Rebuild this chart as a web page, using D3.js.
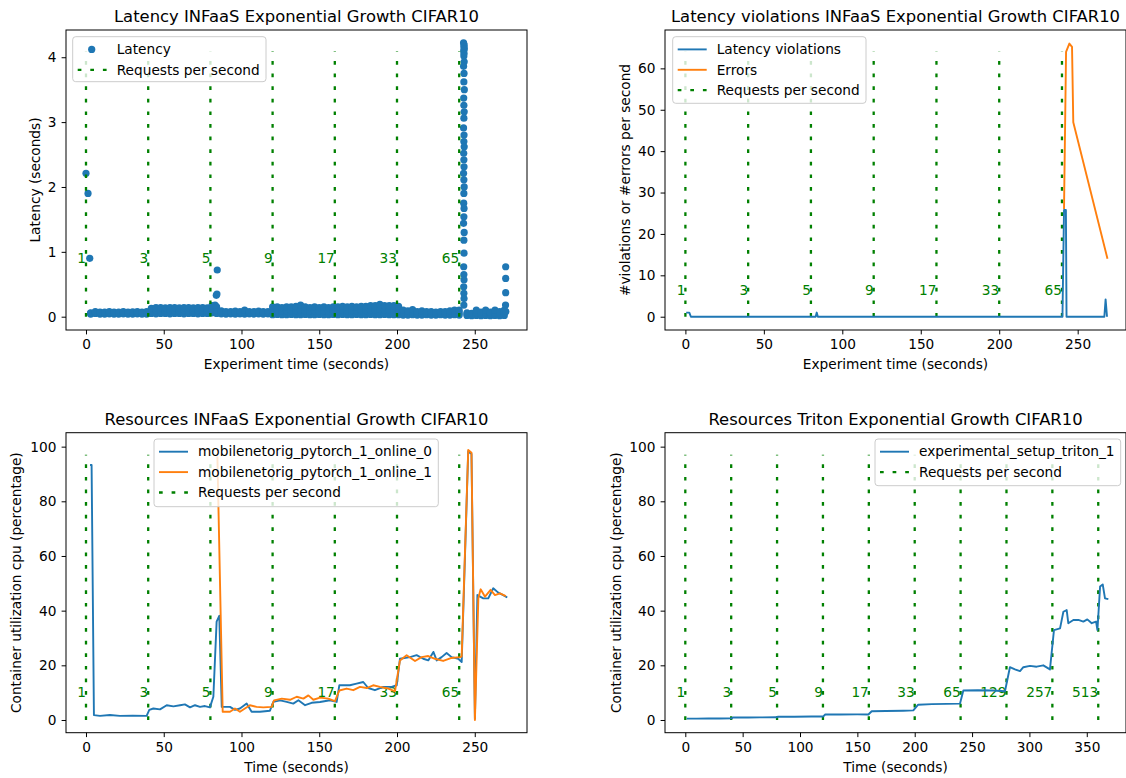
<!DOCTYPE html>
<html lang="en">
<head>
<meta charset="utf-8">
<script src="https://d3js.org/d3.v7.min.js"></script>
<style>
  body { margin: 0; background: #fff; font-family: "DejaVu Sans", sans-serif; }
  text { fill: #000; }
</style>
</head>
<body>
<div id="chart"></div>
<script>
// ---------------- data ----------------
// request-rate steps
var rpsTimes = [0, 40, 80, 120, 160, 200, 240];
var rpsLabels = ["1", "3", "5", "9", "17", "33", "65"];
var tritonRpsTimes = [0, 40, 80, 120, 160, 200, 240, 280, 320, 360];
var tritonRpsLabels = ["1", "3", "5", "9", "17", "33", "65", "129", "257", "513"];

// latency scatter: the dense band, lower edge / middle / upper edge per sample time
var latBandTime = [3, 6, 9, 12, 15, 18, 21, 24, 27, 30, 33, 36, 39,
  42, 45, 48, 51, 54, 57, 60, 63, 66, 69, 72, 75, 78,
  81, 84, 87, 90, 93, 96, 99, 102, 105, 108, 111, 114, 117,
  120, 123, 126, 129, 132, 135, 138, 141, 144, 147, 150, 153, 156, 159,
  162, 165, 168, 171, 174, 177, 180, 183, 186, 189, 192, 195, 198,
  201, 204, 207, 210, 213, 216, 219, 222, 225, 228, 231, 234, 237, 240,
  245, 248, 251, 254, 257, 260, 263, 266, 269];
var latBandLow = [0.04, 0.05, 0.04, 0.04, 0.045, 0.04, 0.04, 0.045, 0.04, 0.04, 0.045, 0.04, 0.04,
  0.05, 0.045, 0.05, 0.05, 0.045, 0.05, 0.05, 0.045, 0.05, 0.05, 0.045, 0.05, 0.05,
  0.06, 0.05, 0.045, 0.04, 0.045, 0.04, 0.045, 0.04, 0.045, 0.04, 0.045, 0.04, 0.045,
  0.03, 0.035, 0.03, 0.03, 0.035, 0.03, 0.03, 0.035, 0.03, 0.03, 0.035, 0.03, 0.03, 0.035,
  0.03, 0.035, 0.03, 0.03, 0.035, 0.03, 0.03, 0.035, 0.03, 0.03, 0.035, 0.03, 0.03,
  0.03, 0.025, 0.025, 0.03, 0.025, 0.025, 0.03, 0.025, 0.025, 0.03, 0.025, 0.025, 0.03, 0.025,
  0.02, 0.015, 0.02, 0.015, 0.02, 0.015, 0.02, 0.015, 0.02];
var latBandMid = [0.05, 0.065, 0.055, 0.055, 0.06, 0.055, 0.055, 0.06, 0.055, 0.06, 0.06, 0.055, 0.06,
  0.09, 0.095, 0.09, 0.09, 0.095, 0.09, 0.09, 0.095, 0.09, 0.09, 0.095, 0.09, 0.09,
  0.11, 0.1, 0.065, 0.06, 0.06, 0.065, 0.06, 0.07, 0.06, 0.06, 0.065, 0.06, 0.06,
  0.09, 0.09, 0.085, 0.09, 0.09, 0.095, 0.1, 0.09, 0.085, 0.09, 0.085, 0.09, 0.085, 0.09,
  0.09, 0.095, 0.09, 0.095, 0.09, 0.095, 0.095, 0.1, 0.1, 0.11, 0.1, 0.1, 0.1,
  0.09, 0.06, 0.055, 0.07, 0.05, 0.055, 0.05, 0.05, 0.045, 0.05, 0.05, 0.055, 0.06, 0.06,
  0.04, 0.03, 0.06, 0.04, 0.06, 0.04, 0.06, 0.05, 0.06];
var latBandHigh = [0.06, 0.08, 0.07, 0.07, 0.08, 0.07, 0.07, 0.08, 0.07, 0.075, 0.08, 0.07, 0.08,
  0.13, 0.14, 0.14, 0.135, 0.14, 0.14, 0.135, 0.14, 0.14, 0.135, 0.14, 0.14, 0.135,
  0.17, 0.15, 0.09, 0.08, 0.08, 0.085, 0.08, 0.1, 0.08, 0.08, 0.085, 0.08, 0.08,
  0.15, 0.15, 0.14, 0.15, 0.15, 0.16, 0.18, 0.15, 0.14, 0.15, 0.14, 0.15, 0.14, 0.15,
  0.15, 0.16, 0.15, 0.16, 0.15, 0.16, 0.16, 0.17, 0.17, 0.19, 0.17, 0.17, 0.17,
  0.16, 0.1, 0.09, 0.11, 0.08, 0.09, 0.08, 0.08, 0.07, 0.08, 0.08, 0.09, 0.1, 0.1,
  0.06, 0.05, 0.1, 0.07, 0.1, 0.07, 0.1, 0.08, 0.1];
// isolated slow requests [time, latency]
var latSpikes = [[0.0, 2.21], [1.3, 1.90], [2.4, 0.90], [83.0, 0.18], [83.8, 0.33], [84.2, 0.35], [84.4, 0.72],
  [242.8, 4.22], [243.2, 4.19], [243.0, 4.16], [243.3, 4.13], [242.9, 4.10], [243.1, 4.06], [243.0, 4.02],
  [243.2, 3.93], [242.8, 3.86], [243.1, 3.75], [243.0, 3.62], [243.3, 3.50], [242.9, 3.37], [243.0, 3.26],
  [243.2, 3.16], [243.0, 3.06], [242.8, 2.91], [243.1, 2.80], [243.0, 2.70], [243.2, 2.62], [242.9, 2.52],
  [243.0, 2.42], [243.1, 2.31], [242.8, 2.21], [243.0, 2.11], [243.2, 2.00], [243.0, 1.90], [242.9, 1.75],
  [243.1, 1.67], [243.0, 1.54], [242.8, 1.44], [243.2, 1.30], [243.0, 1.18], [243.1, 0.98], [242.9, 0.77],
  [243.0, 0.65], [243.1, 0.57], [242.9, 0.46], [243.0, 0.36], [243.1, 0.28], [243.0, 0.18],
  [269.9, 0.77], [269.9, 0.59], [269.9, 0.37], [269.8, 0.18], [270.0, 0.08]];

// latency violations / errors per second [time, count]
var violations = [[0.5, 1], [2.5, 1], [3.5, 0], [83.0, 0], [83.7, 1], [84.4, 0],
  [240.3, 0], [241.3, 25.8], [242.5, 25.8], [242.9, 0], [267.0, 0], [267.8, 4.2], [268.7, 0]];
var errors = [[241.3, 26], [242.6, 64], [244.7, 66], [246.4, 65.2], [247.2, 47], [269.0, 14]];

// INFaaS container cpu [time, %]
var cpuOnline0 = [[2.6, 93.3], [3.6, 93.3], [5.1, 1.8], [9, 1.5], [15.4, 1.8], [21.8, 1.5], [30, 1.6], [39, 1.5],
  [40.7, 3.7], [43.3, 4.2], [47.6, 3.9], [51.9, 5.4], [56.2, 5.0], [60.5, 5.4], [63.6, 5.7], [66.9, 4.6],
  [70.1, 5.4], [73.3, 4.8], [76.5, 5.1], [79.7, 4.6], [81.9, 8.5], [84, 36.0], [85.7, 38.1], [87.3, 4.8],
  [92.6, 4.8], [95.8, 3.7], [99, 4.2], [103.3, 6.0], [106.5, 3.0], [111.9, 3.0], [118.3, 3.4], [120.5, 6.6],
  [124.8, 7.2], [129.1, 6.6], [133.3, 6.0], [136.6, 7.2], [140.9, 5.4], [145.1, 6.3], [150.5, 6.6], [156.9, 7.2],
  [161.2, 6.6], [162.9, 12.7], [169.7, 12.7], [174, 13.3], [178.3, 13.9], [181.5, 11.7], [185.8, 10.9],
  [191.2, 12.1], [196.6, 12.1], [199.8, 12.7], [201.9, 22.4], [208.4, 23.0], [212.6, 23.7], [216.9, 22.4],
  [220.1, 21.8], [223.4, 24.9], [225.5, 21.8], [228.7, 23.0], [231.9, 24.5], [235.1, 23.0], [239.4, 22.4],
  [241.6, 21.2], [245.8, 98.3], [247.9, 97.3], [250.1, 0.5], [251.7, 45.7], [255.5, 44.5], [258.7, 44.5],
  [261.9, 48.2], [265.1, 46.6], [268.3, 45.7], [270.9, 44.8]];
var cpuOnline1 = [[84.5, 96.4], [87.9, 3.0], [92.6, 3.0], [95.8, 4.2], [99, 3.0], [102.2, 4.2], [105.4, 5.4],
  [109.7, 4.8], [114, 4.6], [119.4, 4.8], [120.9, 7.2], [125.9, 7.8], [131.2, 7.4], [135.5, 8.5], [139.8, 7.8],
  [143, 9.0], [146.2, 7.4], [150.5, 8.2], [155.8, 7.8], [160.1, 6.9], [162.9, 10.8], [167.6, 11.5],
  [171.9, 10.9], [176.2, 12.1], [180.5, 11.7], [184.7, 12.7], [189, 12.1], [194.4, 11.5], [198.7, 10.5],
  [201.9, 21.8], [206.2, 23.7], [211.6, 21.6], [215.8, 23.0], [220.1, 23.4], [224.4, 22.4], [229.7, 21.6],
  [235.1, 22.7], [240.5, 23.0], [241.6, 23.2], [245.8, 98.8], [247.9, 97.8], [250.1, 0], [252.3, 44.5],
  [253.8, 47.8], [256.6, 45.1], [260.2, 47.6], [263, 45.7], [266.2, 46.3], [270, 45.3]];

// Triton container cpu [time, %]
var cpuTriton = [[1.2, 0.5], [10, 0.5], [20, 0.55], [30, 0.55], [40.4, 0.6], [41.5, 0.9], [55, 0.9], [65, 0.95],
  [79.7, 1.0], [80.8, 1.2], [95, 1.2], [110, 1.25], [120.3, 1.3], [122, 2.0], [135, 2.0], [150, 2.05],
  [159.6, 2.0], [162.5, 3.2], [175, 3.3], [190, 3.4], [198.8, 3.5], [203, 5.6], [215, 5.8], [228, 5.9],
  [239.5, 6.0], [242.4, 10.8], [255, 10.9], [268, 10.8], [278.7, 10.5], [283, 19.3], [287.4, 18.5],
  [291.8, 17.9], [294.7, 19.3], [300.5, 19.8], [306.3, 19.5], [312.1, 20.0], [317.9, 18.5], [321.4, 32.9],
  [326.7, 33.5], [329.6, 39.6], [332.5, 40.2], [333.9, 35.4], [338.3, 36.6], [342.7, 36.6], [347, 36.0],
  [350.5, 36.8], [354.3, 35.4], [358.1, 36.0], [359.3, 32.9], [361.6, 48.8], [363.9, 49.6], [365.9, 44.5],
  [368.8, 44.2]];

// ---------------- drawing ----------------
var blue = "#1f77b4", orange = "#ff7f0e", green = "#008000";
var fontSize = "13.7px";
var pw = 461, ph = 300;

var svg = d3.select("#chart").append("svg")
  .attr("width", 1126).attr("height", 778)
  .style("font-family", "'DejaVu Sans', sans-serif");

function makePanel(p) {
  var g = svg.append("g").attr("transform", "translate(" + p.left + "," + p.top + ")");
  var x = d3.scaleLinear().domain(p.xDomain).range([0, pw]);
  var y = d3.scaleLinear().domain(p.yDomain).range([ph, 0]);
  var data = g.append("g");
  var top = g.append("g");

  // title
  g.append("text").attr("x", pw / 2).attr("y", -8)
    .attr("text-anchor", "middle").style("font-size", "16.4px").text(p.title);
  // axis labels
  g.append("text").attr("x", pw / 2).attr("y", ph + 39)
    .attr("text-anchor", "middle").style("font-size", fontSize).text(p.xLabel);
  g.append("text")
    .attr("transform", "translate(" + p.yLabelX + "," + (ph / 2) + ") rotate(-90)")
    .attr("dy", "0.35em").attr("text-anchor", "middle")
    .style("font-size", fontSize).text(p.yLabel);

  return { g: g, x: x, y: y, data: data, top: top, p: p };
}

function drawAxes(panel) {
  var g = panel.top;
  var fmt = d3.format("~g");
  var xa = g.append("g").attr("transform", "translate(0," + ph + ")")
    .call(d3.axisBottom(panel.x).tickValues(panel.p.xTicks).tickFormat(fmt)
      .tickSize(4.4).tickSizeOuter(0).tickPadding(5.2));
  var ya = g.append("g")
    .call(d3.axisLeft(panel.y).tickValues(panel.p.yTicks).tickFormat(fmt)
      .tickSize(4.4).tickSizeOuter(0).tickPadding(5.2));
  [xa, ya].forEach(function(a) {
    a.select(".domain").remove();
    a.selectAll("text").style("font-size", fontSize).style("font-family", "'DejaVu Sans', sans-serif").attr("fill", "#000");
    a.selectAll("line").attr("stroke", "#000").attr("stroke-width", 1);
  });
  g.append("rect").attr("width", pw).attr("height", ph)
    .attr("fill", "none").attr("stroke", "#000").attr("stroke-width", 1);
}

function drawRps(panel, times, labels, yTop, yText) {
  var layer = panel.data.append("g");
  layer.selectAll("line").data(times).enter().append("line")
    .attr("x1", function(d) { return panel.x(d); })
    .attr("x2", function(d) { return panel.x(d); })
    .attr("y1", panel.y(0)).attr("y2", panel.y(yTop))
    .attr("stroke", green).attr("stroke-width", 2.3).attr("stroke-dasharray", "3.7 8.9");
  layer.selectAll("text").data(labels).enter().append("text")
    .attr("x", function(d, i) { return panel.x(times[i]); })
    .attr("y", panel.y(yText)).attr("dy", "0.35em")
    .attr("text-anchor", "end").style("font-size", fontSize)
    .style("fill", green).text(function(d) { return d; });
  return layer;
}

function drawLine(panel, pts, color) {
  panel.data.append("path").datum(pts)
    .attr("fill", "none").attr("stroke", color).attr("stroke-width", 1.9)
    .attr("stroke-linejoin", "round")
    .attr("d", d3.line().x(function(d) { return panel.x(d[0]); }).y(function(d) { return panel.y(d[1]); }));
}

function drawLegend(box, items) {
  var g = svg.append("g").attr("transform", "translate(" + box.x + "," + box.y + ")");
  g.append("rect").attr("width", box.w).attr("height", box.h).attr("rx", 3)
    .attr("fill", "#fff").attr("fill-opacity", 0.8).attr("stroke", "#cccccc").attr("stroke-width", 1);
  items.forEach(function(it, i) {
    var cy = 12.7 + i * 20.4;
    if (it.type === "dot") {
      g.append("circle").attr("cx", 19).attr("cy", cy).attr("r", 3.6).attr("fill", it.color);
    } else if (it.type === "dotted") {
      g.append("line").attr("x1", 5).attr("x2", 34).attr("y1", cy).attr("y2", cy)
        .attr("stroke", it.color).attr("stroke-width", 2.3).attr("stroke-dasharray", "3.7 8.9");
    } else {
      g.append("line").attr("x1", 5).attr("x2", 34).attr("y1", cy).attr("y2", cy)
        .attr("stroke", it.color).attr("stroke-width", 1.9);
    }
    g.append("text").attr("x", 44).attr("y", cy).attr("dy", "0.35em")
      .style("font-size", fontSize).text(it.label);
  });
}

// ---- panel 1: latency scatter ----
var p1 = makePanel({
  left: 66, top: 30, xDomain: [-12.86, 283.6], yDomain: [-0.205, 4.42],
  xTicks: [0, 50, 100, 150, 200, 250], yTicks: [0, 1, 2, 3, 4],
  title: "Latency INFaaS Exponential Growth CIFAR10",
  xLabel: "Experiment time (seconds)", yLabel: "Latency (seconds)", yLabelX: -31
});
var latPoints = [];
latBandTime.forEach(function(t, i) {
  latPoints.push([t, latBandLow[i]]);
  latPoints.push([t, latBandMid[i]]);
  latPoints.push([t, latBandHigh[i]]);
});
latPoints = latPoints.concat(latSpikes);
p1.data.selectAll("circle").data(latPoints).enter().append("circle")
  .attr("cx", function(d) { return p1.x(d[0]); })
  .attr("cy", function(d) { return p1.y(d[1]); })
  .attr("r", 3.6).attr("fill", blue);
drawRps(p1, rpsTimes, rpsLabels, 4.09, 0.9);
drawAxes(p1);
drawLegend({ x: 72.7, y: 36.7, w: 193.3, h: 45 }, [
  { type: "dot", color: blue, label: "Latency" },
  { type: "dotted", color: green, label: "Requests per second" }
]);

// ---- panel 2: violations / errors ----
var p2 = makePanel({
  left: 665, top: 30, xDomain: [-13.0, 280.8], yDomain: [-3.21, 69.27],
  xTicks: [0, 50, 100, 150, 200, 250], yTicks: [0, 10, 20, 30, 40, 50, 60],
  title: "Latency violations INFaaS Exponential Growth CIFAR10",
  xLabel: "Experiment time (seconds)", yLabel: "#violations or #errors per second", yLabelX: -39.5
});
drawRps(p2, rpsTimes, rpsLabels, 64, 6.4);
drawLine(p2, violations, blue);
drawLine(p2, errors, orange);
drawAxes(p2);
drawLegend({ x: 672.7, y: 36.7, w: 193.3, h: 66.6 }, [
  { type: "line", color: blue, label: "Latency violations" },
  { type: "line", color: orange, label: "Errors" },
  { type: "dotted", color: green, label: "Requests per second" }
]);

// ---- panel 3: INFaaS resources ----
var p3 = makePanel({
  left: 66, top: 432.7, xDomain: [-12.86, 283.6], yDomain: [-4.65, 105.1],
  xTicks: [0, 50, 100, 150, 200, 250], yTicks: [0, 20, 40, 60, 80, 100],
  title: "Resources INFaaS Exponential Growth CIFAR10",
  xLabel: "Time (seconds)", yLabel: "Container utilization cpu (percentage)", yLabelX: -49.3
});
drawRps(p3, rpsTimes, rpsLabels, 97, 10);
drawLine(p3, cpuOnline0, blue);
drawLine(p3, cpuOnline1, orange);
drawAxes(p3);
drawLegend({ x: 154, y: 439, w: 284.3, h: 67.7 }, [
  { type: "line", color: blue, label: "mobilenetorig_pytorch_1_online_0" },
  { type: "line", color: orange, label: "mobilenetorig_pytorch_1_online_1" },
  { type: "dotted", color: green, label: "Requests per second" }
]);

// ---- panel 4: Triton resources ----
var p4 = makePanel({
  left: 665, top: 432.7, xDomain: [-17.7, 384.2], yDomain: [-4.65, 105.1],
  xTicks: [0, 50, 100, 150, 200, 250, 300, 350], yTicks: [0, 20, 40, 60, 80, 100],
  title: "Resources Triton Exponential Growth CIFAR10",
  xLabel: "Time (seconds)", yLabel: "Container utilization cpu (percentage)", yLabelX: -48.3
});
drawRps(p4, tritonRpsTimes, tritonRpsLabels, 97, 10);
drawLine(p4, cpuTriton, blue);
drawAxes(p4);
drawLegend({ x: 875, y: 439, w: 245.7, h: 46.7 }, [
  { type: "line", color: blue, label: "experimental_setup_triton_1" },
  { type: "dotted", color: green, label: "Requests per second" }
]);
</script>
</body>
</html>
